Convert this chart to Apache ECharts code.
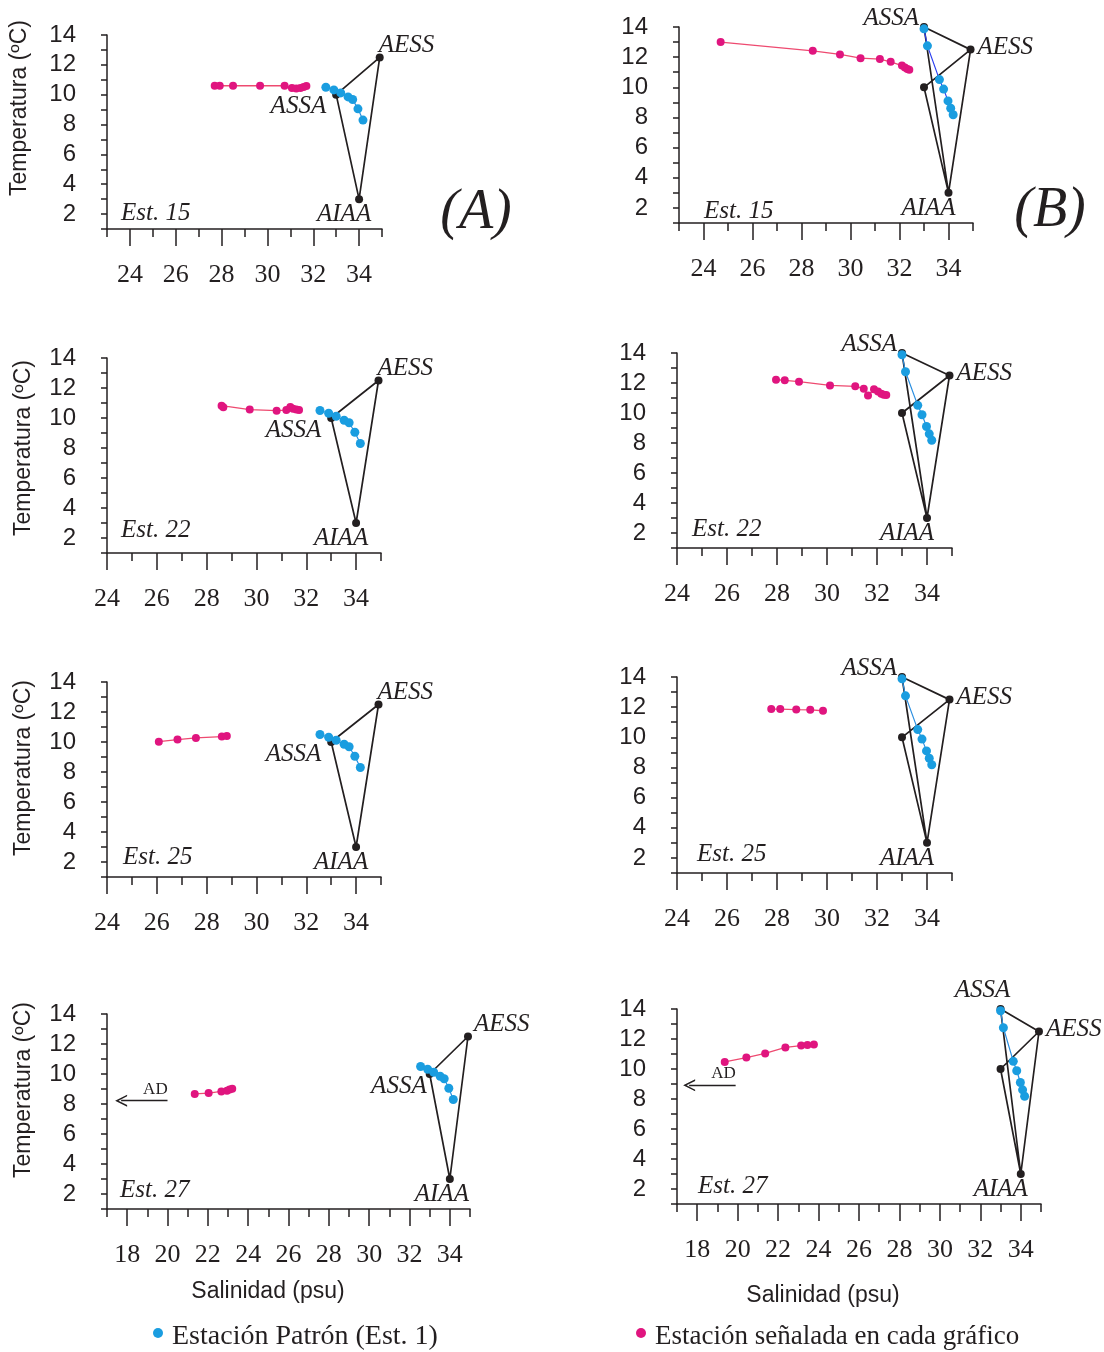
<!DOCTYPE html>
<html>
<head>
<meta charset="utf-8">
<script src="https://cdn.jsdelivr.net/npm/echarts@6/dist/echarts.min.js"></script>
<style>html,body{margin:0;background:#fff}#main{width:1104px;height:1352px}</style>
</head>
<body>
<div id="main"></div>
<script>
// salinidad (psu), temperatura (ºC)
var patronA = [[32.55,10.5],[32.9,10.32],[33.2,10.12],[33.52,9.85],[33.72,9.68],[33.95,9.05],[34.17,8.3]];
var patronB = [[33.0,13.88],[33.14,12.75],[33.63,10.51],[33.8,9.88],[33.98,9.1],[34.09,8.61],[34.19,8.18]];

var est15A = [[27.7,10.6],[27.92,10.6],[28.5,10.6],[29.68,10.6],[30.75,10.6],[31.07,10.45],[31.26,10.42],[31.44,10.45],[31.58,10.52],[31.7,10.58]];
var est15B = [[24.7,13.0],[28.46,12.42],[29.57,12.18],[30.41,11.93],[31.2,11.87],[31.64,11.69],[32.1,11.44],[32.22,11.31],[32.32,11.22],[32.4,11.16]];
var est22A = [[28.6,10.82],[28.67,10.71],[29.73,10.56],[30.81,10.49],[31.2,10.53],[31.36,10.73],[31.47,10.62],[31.6,10.56],[31.71,10.53]];
var est22B = [[27.96,12.22],[28.31,12.18],[28.88,12.09],[30.12,11.84],[31.13,11.78],[31.47,11.62],[31.64,11.16],[31.88,11.58],[32.04,11.44],[32.17,11.29],[32.27,11.22],[32.37,11.2]];
var est25A = [[26.08,10.02],[26.83,10.16],[27.57,10.27],[28.61,10.36],[28.81,10.4]];
var est25B = [[27.77,11.87],[28.13,11.87],[28.77,11.84],[29.33,11.82],[29.84,11.76]];
var est27A = [[21.35,8.67],[22.04,8.73],[22.67,8.84],[22.95,8.89],[23.08,8.96],[23.21,9.02]];
var est27B = [[19.36,10.47],[20.43,10.76],[21.36,11.04],[22.36,11.44],[23.14,11.56],[23.45,11.6],[23.77,11.64]];

// masas de agua (vertices de mezcla)
var nucleosA = [['ASSA',33,10],['AESS',34.9,12.5],['AIAA',34,3]];
var nucleosB = [['ASSA',33,14],['AESS',34.9,12.5],['AIAA',34,3],['',33,10]];
var adA = [[20.0,8.22],[17.7,8.22]];
var adB = [[19.9,8.91],[17.6,8.91]];

var yTicks = [1,2,3,4,5,6,7,8,9,10,11,12,13,14];
var yLabels = [2,4,6,8,10,12,14];

var ink = '#231f20', azul = '#1a9de0', rosa = '#e0157f';

var panels = [
  {grid:{left:107,top:35,width:275,height:194}, xmin:23, est:est15A, tipo:'A', name:'Est. 15', nx:121, ny:213},
  {grid:{left:107,top:358,width:274,height:195}, xmin:24, est:est22A, tipo:'A', name:'Est. 22', nx:121, ny:530},
  {grid:{left:107,top:682,width:274,height:195}, xmin:24, est:est25A, tipo:'A', name:'Est. 25', nx:123, ny:857},
  {grid:{left:107,top:1014,width:363,height:195}, xmin:17, est:est27A, tipo:'A', name:'Est. 27', nx:120, ny:1190, ad:adA, dx:7},
  {grid:{left:679,top:27,width:294,height:196}, xmin:23, est:est15B, tipo:'B', name:'Est. 15', nx:704, ny:211},
  {grid:{left:677,top:353,width:275,height:195}, xmin:24, est:est22B, tipo:'B', name:'Est. 22', nx:692, ny:529},
  {grid:{left:677,top:677,width:275,height:196}, xmin:24, est:est25B, tipo:'B', name:'Est. 25', nx:697, ny:854},
  {grid:{left:677,top:1009,width:364,height:195}, xmin:17, est:est27B, tipo:'B', name:'Est. 27', nx:698, ny:1186, ad:adB, top:true}
];

function rango(a, b, par) {
  var r = [];
  for (var v = a; v <= b; v++) if ((v % 2 === 0) === par) r.push(v);
  return r;
}

var labelFont = {fontFamily:'Liberation Serif', fontStyle:'italic', fontSize:25, color:ink, opacity:1};

function nodeData(p) {
  var src = p.tipo === 'A' ? nucleosA : nucleosB;
  var dx = p.dx || 0;
  return src.map(function (n) {
    var lab;
    if (n[0] === 'ASSA') {
      if (p.tipo === 'A') lab = {position:'left', distance:4, offset:[-2 + dx, 12]};
      else if (p.top) lab = {position:'top', distance:2, offset:[-18, 0]};
      else lab = {position:'left', distance:4, offset:[3, -9]};
    } else if (n[0] === 'AESS') {
      lab = p.tipo === 'A' ? {position:'right', distance:0, offset:[-5 + dx, -12]} : {position:'right', distance:3, offset:[0, -2]};
    } else if (n[0] === 'AIAA') {
      lab = {position:'bottom', distance:1, offset:[(p.tipo === 'A' ? -15 : -20) + dx, -2]};
    } else {
      lab = {};
    }
    lab.show = n[0] !== '';
    lab.formatter = n[0];
    return {value:[n[1], n[2]], name:n[0], label:Object.assign({}, labelFont, lab)};
  });
}

function triangle(tipo) {
  var d = {};
  (tipo === 'A' ? nucleosA : nucleosB).forEach(function (n) { d[n[0] || 'low'] = [n[1], n[2]]; });
  if (tipo === 'A') return [d.AESS, d.ASSA, d.AIAA, d.AESS];
  return [d.AESS, d.ASSA, d.AIAA, d.low, d.AESS, d.AIAA];
}

var grids = [], xAxes = [], yAxes = [], series = [], graphic = [];

panels.forEach(function (p, i) {
  grids.push(Object.assign({outerBoundsMode:'none'}, p.grid));
  var ev = rango(p.xmin, 35, true), od = rango(p.xmin, 35, false);
  xAxes.push({
    gridIndex:i, type:'value', min:p.xmin, max:35, position:'bottom',
    axisLine:{onZero:false, lineStyle:{color:ink, width:1.5}},
    splitLine:{show:false},
    axisTick:{customValues:ev, length:17, lineStyle:{color:ink, width:1.5}},
    axisLabel:{customValues:ev, margin:33, fontFamily:'Liberation Serif', fontSize:26, color:ink}
  });
  xAxes.push({
    gridIndex:i, type:'value', min:p.xmin, max:35, position:'bottom',
    axisLine:{show:false, onZero:false}, splitLine:{show:false},
    axisTick:{customValues:od, length:8, lineStyle:{color:ink, width:1.5}},
    axisLabel:{show:false}
  });
  yAxes.push({
    gridIndex:i, type:'value', min:1, max:14,
    axisLine:{show:true, onZero:false, lineStyle:{color:ink, width:1.5}},
    splitLine:{show:false},
    axisTick:{show:true, customValues:yTicks, length:6, lineStyle:{color:ink, width:1.5}},
    axisLabel:{customValues:yLabels, margin:31, fontFamily:'Liberation Sans', fontSize:24, color:ink}
  });
  var xi = 2 * i;
  series.push({
    type:'line', xAxisIndex:xi, yAxisIndex:i, data:triangle(p.tipo), symbol:'none',
    lineStyle:{color:ink, width:1.7, opacity:1}, z:2, silent:true
  });
  series.push({
    type:'scatter', xAxisIndex:xi, yAxisIndex:i, data:nodeData(p), symbol:'circle', symbolSize:8,
    itemStyle:{color:ink, opacity:1}, z:3, silent:true
  });
  series.push({
    type:'line', xAxisIndex:xi, yAxisIndex:i, data:p.est, symbol:'circle', symbolSize:8, showSymbol:true,
    itemStyle:{color:rosa, opacity:1}, lineStyle:{color:'#ee4a70', width:1.3}, z:4, silent:true
  });
  series.push({
    type:'line', xAxisIndex:xi, yAxisIndex:i, data:p.tipo === 'A' ? patronA : patronB, symbol:'circle', symbolSize:9,
    itemStyle:{color:azul, opacity:1}, lineStyle:{color: i === 4 ? '#2b3ff0' : '#2a8ee0', width:1.2}, z:5, silent:true
  });
  if (p.ad) {
    series.push({
      type:'lines', coordinateSystem:'cartesian2d', xAxisIndex:xi, yAxisIndex:i,
      data:[{coords:p.ad}], symbol:['none', 'path://M0,12 L6,0 L12,12 L10.4,12 L6,3.4 L1.6,12 Z'], symbolSize:[15, 12],
      lineStyle:{color:ink, width:1.4, opacity:1}, silent:true
    });
    series.push({
      type:'scatter', xAxisIndex:xi, yAxisIndex:i, data:[[(p.ad[0][0] + p.ad[1][0]) / 2 + 0.55, p.ad[0][1]]],
      symbolSize:0, silent:true,
      label:{show:true, formatter:'AD', position:'top', distance:3, fontFamily:'Liberation Serif', fontSize:17, color:ink, opacity:1}
    });
  }
  graphic.push({type:'text', x:p.nx, y:p.ny, silent:true,
    style:{text:p.name, font:'italic 25px "Liberation Serif"', fill:ink, align:'left', verticalAlign:'middle'}});
});

var temps = [[20,108],[24,448],[24,768],[24,1090]];
temps.forEach(function (t) {
  graphic.push({type:'text', x:t[0], y:t[1], rotation:Math.PI / 2, silent:true,
    style:{text:'Temperatura (ºC)', font:'23px "Liberation Sans"', fill:ink, align:'center', verticalAlign:'middle'}});
});
graphic.push(
  {type:'text', x:268, y:1292, style:{text:'Salinidad (psu)', font:'23px "Liberation Sans"', fill:ink, align:'center', verticalAlign:'middle'}},
  {type:'text', x:823, y:1296, style:{text:'Salinidad (psu)', font:'23px "Liberation Sans"', fill:ink, align:'center', verticalAlign:'middle'}},
  {type:'text', x:476, y:213, style:{text:'(A)', font:'italic 56px "Liberation Serif"', fill:ink, align:'center', verticalAlign:'middle'}},
  {type:'text', x:1050, y:211, style:{text:'(B)', font:'italic 56px "Liberation Serif"', fill:ink, align:'center', verticalAlign:'middle'}},
  {type:'circle', shape:{cx:158, cy:1333, r:5}, style:{fill:azul}},
  {type:'text', x:172, y:1337, style:{text:'Estación Patrón (Est. 1)', font:'28px "Liberation Serif"', fill:ink, align:'left', verticalAlign:'middle'}},
  {type:'circle', shape:{cx:641, cy:1333, r:5}, style:{fill:rosa}},
  {type:'text', x:655, y:1337, style:{text:'Estación señalada en cada gráfico', font:'27px "Liberation Serif"', fill:ink, align:'left', verticalAlign:'middle'}}
);

var chart = echarts.init(document.getElementById('main'));
chart.setOption({
  animation:false,
  backgroundColor:'#fff',
  grid:grids,
  xAxis:xAxes,
  yAxis:yAxes,
  series:series,
  graphic:graphic
});
</script>
</body>
</html>
